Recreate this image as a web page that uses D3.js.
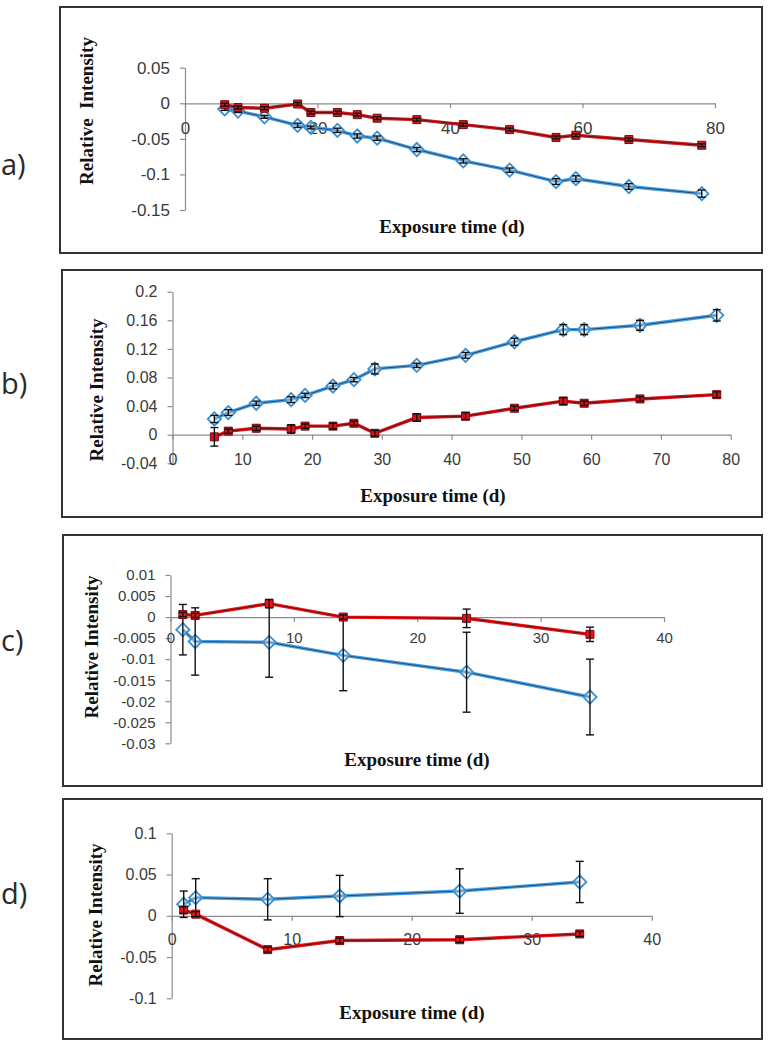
<!DOCTYPE html>
<html>
<head>
<meta charset="utf-8">
<script src="https://cdn.jsdelivr.net/npm/d3@7"></script>
<style>
  body { margin: 0; background: #fff; }
  svg { display: block; }
</style>
</head>
<body>
<svg id="fig" width="772" height="1050"></svg>
<script>
// ---- data ----
const daysLong = [6, 8, 12, 17, 19, 23, 26, 29, 35, 42, 49, 56, 59, 67, 78];
const daysShort = [1, 2, 8, 14, 24, 34];

const aBlue    = [-0.008, -0.011, -0.019, -0.031, -0.034, -0.038, -0.046, -0.049, -0.065, -0.081, -0.094, -0.110, -0.106, -0.117, -0.127];
const aBlueErr = [0.002, 0.002, 0.002, 0.003, 0.002, 0.003, 0.003, 0.003, 0.003, 0.003, 0.003, 0.004, 0.004, 0.004, 0.005];
const aRed     = [-0.002, -0.006, -0.007, -0.001, -0.013, -0.013, -0.016, -0.021, -0.023, -0.030, -0.037, -0.048, -0.045, -0.051, -0.059];
const aRedErr  = [0.002, 0.002, 0.002, 0.002, 0.002, 0.002, 0.002, 0.002, 0.002, 0.002, 0.002, 0.002, 0.002, 0.002, 0.002];

const bBlue    = [0.022, 0.031, 0.044, 0.049, 0.055, 0.068, 0.077, 0.092, 0.097, 0.111, 0.130, 0.147, 0.147, 0.153, 0.167];
const bBlueErr = [0.005, 0.004, 0.003, 0.004, 0.003, 0.004, 0.003, 0.007, 0.003, 0.004, 0.005, 0.007, 0.007, 0.007, 0.008];
const bRed     = [-0.003, 0.005, 0.009, 0.008, 0.012, 0.012, 0.016, 0.002, 0.024, 0.026, 0.037, 0.047, 0.044, 0.050, 0.056];
const bRedErr  = [0.013, 0.003, 0.003, 0.006, 0.003, 0.004, 0.003, 0.004, 0.005, 0.005, 0.003, 0.005, 0.003, 0.003, 0.004];

const cBlue    = [-0.003, -0.0058, -0.006, -0.0091, -0.0131, -0.019];
const cBlueErr = [0.006, 0.008, 0.0083, 0.0084, 0.0095, 0.009];
const cRed     = [0.0006, 0.0004, 0.0032, 0.0, -0.0003, -0.0041];
const cRedErr  = [0.0005, 0.0005, 0.001, 0.0005, 0.0022, 0.0017];

const dBlue    = [0.014, 0.022, 0.020, 0.024, 0.030, 0.041];
const dBlueErr = [0.016, 0.023, 0.025, 0.025, 0.027, 0.025];
const dRed     = [0.007, 0.002, -0.041, -0.030, -0.029, -0.022];
const dRedErr  = [0.004, 0.003, 0.003, 0.003, 0.003, 0.003];

const xTicksLong  = [0, 10, 20, 30, 40, 50, 60, 70, 80];
const xTicksA     = [0, 20, 40, 60, 80];
const xTicksShort = [0, 10, 20, 30, 40];

const yTicksA = [0.05, 0, -0.05, -0.1, -0.15];
const yLabelsA = ["0.05", "0", "-0.05", "-0.1", "-0.15"];
const yTicksB = [0.2, 0.16, 0.12, 0.08, 0.04, 0, -0.04];
const yLabelsB = ["0.2", "0.16", "0.12", "0.08", "0.04", "0", "-0.04"];
const yTicksC = [0.01, 0.005, 0, -0.005, -0.01, -0.015, -0.02, -0.025, -0.03];
const yLabelsC = ["0.01", "0.005", "0", "-0.005", "-0.01", "-0.015", "-0.02", "-0.025", "-0.03"];
const yTicksD = [0.1, 0.05, 0, -0.05, -0.1];
const yLabelsD = ["0.1", "0.05", "0", "-0.05", "-0.1"];

const panelNames = ["a)", "b)", "c)", "d)"];
const xTitle = "Exposure time (d)";

// ---- layout per panel ----
const panels = [
  { name: panelNames[0], box: [60, 7, 762, 253], tag: 163,
    x: [0, 80], xr: [185, 715], xt: xTicksA, xoff: 25,
    y: [-0.15, 0.05], yr: [210, 67.7], yt: yTicksA, yl: yLabelsA, fs: 17,
    ytitle: "Relative  Intensity", ytx: 86, yty: 111, xtx: 452, xty: 226,
    days: daysLong, blue: aBlue, blueErr: aBlueErr, red: aRed, redErr: aRedErr, redCol: "#cc1f24" },
  { name: panelNames[1], box: [62, 270, 762, 517], tag: 382,
    x: [0, 80], xr: [172.5, 730.7], xt: xTicksLong, xoff: 24.5,
    y: [-0.04, 0.2], yr: [463.3, 291.7], yt: yTicksB, yl: yLabelsB, fs: 16,
    ytitle: "Relative Intensity", ytx: 96, yty: 390, xtx: 433, xty: 495,
    days: daysLong, blue: bBlue, blueErr: bBlueErr, red: bRed, redErr: bRedErr, redCol: "#d8121c" },
  { name: panelNames[2], box: [63, 535, 762, 786], tag: 639,
    x: [0, 40], xr: [170.5, 664], xt: xTicksShort, xoff: 20.5,
    y: [-0.03, 0.01], yr: [743.3, 575], yt: yTicksC, yl: yLabelsC, fs: 15,
    ytitle: "Relative Intensity", ytx: 91, yty: 647, xtx: 417, xty: 759,
    days: daysShort, blue: cBlue, blueErr: cBlueErr, red: cRed, redErr: cRedErr, redCol: "#e8141c" },
  { name: panelNames[3], box: [63, 799, 762, 1039], tag: 892,
    x: [0, 40], xr: [171.7, 651.7], xt: xTicksShort, xoff: 23.5,
    y: [-0.1, 0.1], yr: [998.3, 833.3], yt: yTicksD, yl: yLabelsD, fs: 16,
    ytitle: "Relative Intensity", ytx: 95, yty: 915, xtx: 412, xty: 1012,
    days: daysShort, blue: dBlue, blueErr: dBlueErr, red: dRed, redErr: dRedErr, redCol: "#e8141c" }
];

const tickFont = '"Liberation Sans", Arial, sans-serif';
const titleFont = '"Liberation Serif", "Times New Roman", serif';
const axisCol = "#8c8c8c";

const svg = d3.select("#fig");

function errorBars(g, p, xs, ys, vals, errs) {
  const eb = g.append("g");
  vals.forEach((v, i) => {
    const cx = xs(p.days[i]);
    const y1 = ys(v - errs[i]), y2 = ys(v + errs[i]);
    eb.append("line").attr("x1", cx).attr("x2", cx).attr("y1", y1).attr("y2", y2);
    eb.append("line").attr("x1", cx - 4).attr("x2", cx + 4).attr("y1", y1).attr("y2", y1);
    eb.append("line").attr("x1", cx - 4).attr("x2", cx + 4).attr("y1", y2).attr("y2", y2);
  });
  eb.attr("stroke", "#111").attr("stroke-width", 1.4);
}

panels.forEach(p => {
  const g = svg.append("g");
  const [bx0, by0, bx1, by1] = p.box;

  g.append("rect")
    .attr("x", bx0).attr("y", by0)
    .attr("width", bx1 - bx0).attr("height", by1 - by0)
    .attr("fill", "#fff").attr("stroke", "#333").attr("stroke-width", 2);

  svg.append("text")
    .attr("x", 1).attr("y", p.tag)
    .attr("dominant-baseline", "central")
    .attr("font-family", '"Open Sans", "Noto Sans", sans-serif')
    .attr("font-size", 29).attr("fill", "#2a2a2a")
    .text(p.name);

  const xs = d3.scaleLinear().domain(p.x).range(p.xr);
  const ys = d3.scaleLinear().domain(p.y).range(p.yr);

  const yAxis = d3.axisLeft(ys)
    .tickValues(p.yt)
    .tickFormat((d, i) => p.yl[i])
    .tickSize(5).tickSizeOuter(0).tickPadding(10);
  const xAxis = d3.axisBottom(xs)
    .tickValues(p.xt)
    .tickFormat(d3.format("d"))
    .tickSize(5).tickSizeOuter(0)
    .tickPadding(p.xoff - 5 - 0.36 * p.fs);

  const yg = g.append("g").attr("transform", `translate(${xs(0)},0)`).call(yAxis);
  const xg = g.append("g").attr("transform", `translate(0,${ys(0)})`).call(xAxis);
  [xg, yg].forEach(ax => {
    ax.select(".domain").attr("stroke", axisCol).attr("stroke-width", 1.2);
    ax.selectAll(".tick line").attr("stroke", axisCol).attr("stroke-width", 1.2);
    ax.selectAll(".tick text")
      .attr("fill", "#3a3a3a")
      .attr("font-family", tickFont)
      .attr("font-size", p.fs);
  });

  const line = d3.line()
    .x((d, i) => xs(p.days[i]))
    .y(d => ys(d));

  // blue series (hollow diamonds)
  g.append("path").attr("d", line(p.blue))
    .attr("fill", "none").attr("stroke", "#4a9ee0").attr("stroke-width", 3.4);
  g.append("path").attr("d", line(p.blue))
    .attr("fill", "none").attr("stroke", "#1d4f7c").attr("stroke-width", 1);
  const diamond = d3.symbol().type(d3.symbolSquare).size(88);
  g.append("g").selectAll("path")
    .data(p.blue)
    .join("path")
    .attr("d", diamond)
    .attr("transform", (d, i) => `translate(${xs(p.days[i])},${ys(d)}) rotate(45)`)
    .attr("fill", "rgba(255,255,255,0.35)")
    .attr("stroke", "#3b8fd0").attr("stroke-width", 1.8);
  errorBars(g, p, xs, ys, p.blue, p.blueErr);

  // red series (filled squares)
  g.append("path").attr("d", line(p.red))
    .attr("fill", "none").attr("stroke", p.redCol).attr("stroke-width", 3.4);
  g.append("path").attr("d", line(p.red))
    .attr("fill", "none").attr("stroke", "#6e0a0a").attr("stroke-width", 1);
  const square = d3.symbol().type(d3.symbolSquare).size(64);
  g.append("g").selectAll("path")
    .data(p.red)
    .join("path")
    .attr("d", square)
    .attr("transform", (d, i) => `translate(${xs(p.days[i])},${ys(d)})`)
    .attr("fill", p.redCol)
    .attr("stroke", "#7a0808").attr("stroke-width", 1);
  errorBars(g, p, xs, ys, p.red, p.redErr);

  // axis titles
  g.append("text")
    .attr("x", p.xtx).attr("y", p.xty)
    .attr("text-anchor", "middle").attr("dominant-baseline", "central")
    .attr("font-family", titleFont).attr("font-weight", "bold")
    .attr("font-size", 19).attr("fill", "#111")
    .text(xTitle);
  g.append("text")
    .attr("transform", `translate(${p.ytx},${p.yty}) rotate(-90)`)
    .attr("text-anchor", "middle").attr("dominant-baseline", "central")
    .attr("font-family", titleFont).attr("font-weight", "bold")
    .attr("font-size", 19).attr("fill", "#111")
    .attr("xml:space", "preserve")
    .style("white-space", "pre")
    .text(p.ytitle);
});
</script>
</body>
</html>
